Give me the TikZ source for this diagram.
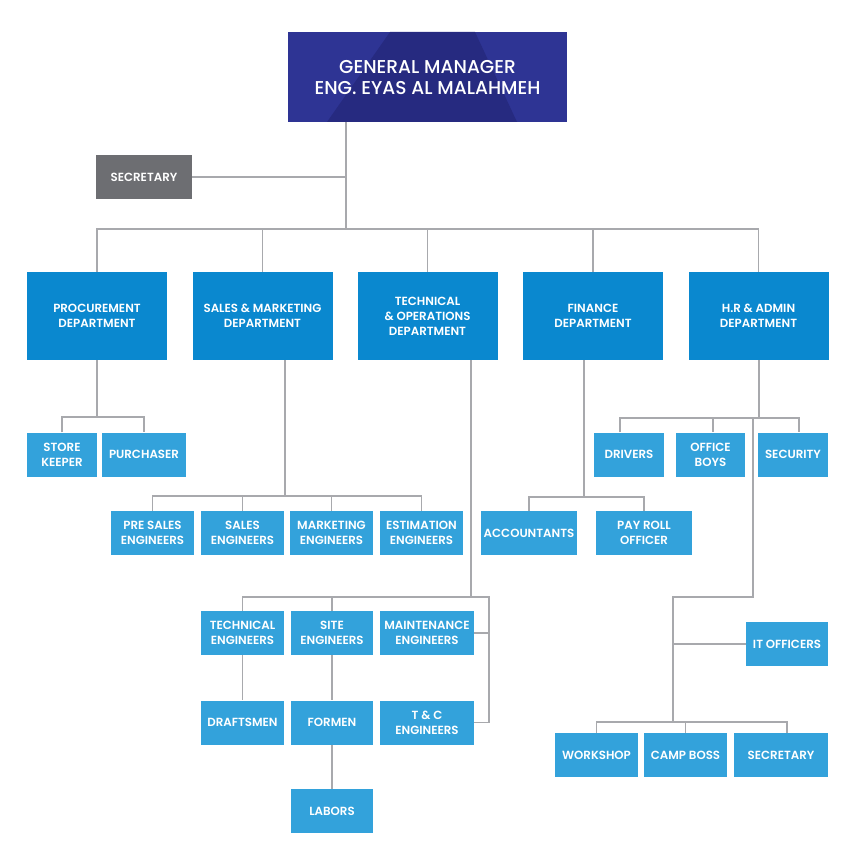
\documentclass[tikz,border=0pt]{standalone}
\usepackage{fontspec}
\setmainfont{Poppins}[UprightFont=* SemiBold]
\newfontfamily\gmfont{Poppins}[UprightFont=* Medium]
\definecolor{gmblue}{HTML}{2E3494}
\definecolor{gmdark}{HTML}{262A80}
\definecolor{dept}{HTML}{0A88CF}
\definecolor{subc}{HTML}{33A2DB}
\definecolor{greyb}{HTML}{6D6E72}
\definecolor{lnc}{HTML}{A8A9AD}
\begin{document}
\begin{tikzpicture}[x=1pt,y=-1pt,
  box/.style={inner sep=0pt,text=white,align=center,font=\fontsize{11.8}{15}\selectfont},
  deptbox/.style={box,fill=dept,minimum width=140pt,minimum height=88pt},
  subbox/.style={box,fill=subc,minimum height=44pt},
  conn/.style={draw=lnc,line width=1.6pt}]
\useasboundingbox (0,0) rectangle (858,861);
% General manager
\node[box,fill=gmblue,minimum width=279pt,minimum height=90pt] (gm) at (427.5,77) {};
\fill[gmdark] (390,32) -- (475,32) -- (517,122) -- (327,122) -- cycle;
\node[box,font=\gmfont\fontsize{18.6}{21.5}\selectfont] (gmt) at (427.5,77.5) {GENERAL MANAGER\\ENG. EYAS AL MALAHMEH};
% Secretary
\node[box,fill=greyb,minimum width=96pt,minimum height=44pt] (sec) at (144,177) {SECRETARY};
% Departments
\node[deptbox] (proc) at (97,316) {PROCUREMENT\\DEPARTMENT};
\node[deptbox] (sales) at (262.5,316) {SALES \& MARKETING\\DEPARTMENT};
\node[deptbox] (tech) at (427.5,316) {TECHNICAL\\\& OPERATIONS\\DEPARTMENT};
\node[deptbox] (fin) at (593,316) {FINANCE\\DEPARTMENT};
\node[deptbox] (hr) at (758.5,316) {H.R \& ADMIN\\DEPARTMENT};
% Procurement subs
\node[subbox,minimum width=70pt] (store) at (62,454.5) {STORE\\KEEPER};
\node[subbox,minimum width=84pt] (purch) at (144,454.5) {PURCHASER};
% Sales subs
\node[subbox,minimum width=83pt] (presales) at (152.5,533) {PRE SALES\\ENGINEERS};
\node[subbox,minimum width=83pt] (saleseng) at (242.5,533) {SALES\\ENGINEERS};
\node[subbox,minimum width=83pt] (mkt) at (331.5,533) {MARKETING\\ENGINEERS};
\node[subbox,minimum width=83pt] (est) at (421.5,533) {ESTIMATION\\ENGINEERS};
% Finance subs
\node[subbox,minimum width=96pt] (acc) at (529,533) {ACCOUNTANTS};
\node[subbox,minimum width=96pt] (pay) at (644,533) {PAY ROLL\\OFFICER};
% HR subs
\node[subbox,minimum width=70pt] (drv) at (629,454.5) {DRIVERS};
\node[subbox,minimum width=69pt] (boys) at (710.5,454.5) {OFFICE\\BOYS};
\node[subbox,minimum width=70pt] (secu) at (793,454.5) {SECURITY};
\node[subbox,minimum width=82pt] (it) at (787,644) {IT OFFICERS};
\node[subbox,minimum width=83pt] (work) at (596.5,755) {WORKSHOP};
\node[subbox,minimum width=83pt] (camp) at (685.5,755) {CAMP BOSS};
\node[subbox,minimum width=94pt] (sec2) at (781,755) {SECRETARY};
% Technical subs
\node[subbox,minimum width=83pt] (teng) at (242.5,633) {TECHNICAL\\ENGINEERS};
\node[subbox,minimum width=82pt] (site) at (332,633) {SITE\\ENGINEERS};
\node[subbox,minimum width=94pt] (maint) at (427,633) {MAINTENANCE\\ENGINEERS};
\node[subbox,minimum width=83pt] (draft) at (242.5,722.5) {DRAFTSMEN};
\node[subbox,minimum width=82pt] (formen) at (332,722.5) {FORMEN};
\node[subbox,minimum width=94pt] (tc) at (427,722.5) {T \& C\\ENGINEERS};
\node[subbox,minimum width=82pt] (lab) at (332,811) {LABORS};
% Coordinates
\coordinate (bus) at (346,229);
% Connectors
\draw[conn] (346,122) -- (bus);
\draw[conn] (sec.east) -- (346,177);
\draw[conn] (proc.north) -- (97,229) -- (758.5,229) -- (hr.north);
\draw[conn] (sales.north) -- (262.5,229);
\draw[conn] (tech.north) -- (427.5,229);
\draw[conn] (fin.north) -- (593,229);
% Procurement
\draw[conn] (proc.south) -- (97,417);
\draw[conn] (store.north) -- (62,417) -- (144,417) -- (purch.north);
% Sales
\draw[conn] (285,360) -- (285,496);
\draw[conn] (presales.north) -- (152.5,496) -- (421.5,496) -- (est.north);
\draw[conn] (saleseng.north) -- (242.5,496);
\draw[conn] (mkt.north) -- (331.5,496);
% Finance
\draw[conn] (584,360) -- (584,497);
\draw[conn] (acc.north) -- (529,497) -- (644,497) -- (pay.north);
% HR
\draw[conn] (759,360) -- (759,418);
\draw[conn] (620,418 |- drv.north) -- (620,418) -- (799,418) -- (799,418 |- secu.north);
\draw[conn] (713,418) -- (713,418 |- boys.north);
\draw[conn] (753,418) -- (753,597) -- (673,597) -- (673,722);
\draw[conn] (673,644) -- (it.west);
\draw[conn] (work.north) -- (596.5,722) -- (787,722) -- (787,722 |- sec2.north);
\draw[conn] (camp.north) -- (685.5,722);
% Technical
\draw[conn] (471,360) -- (471,597);
\draw[conn] (teng.north) -- (242.5,597) -- (489,597) -- (489,722.5) -- (tc.east);
\draw[conn] (site.north) -- (332,597);
\draw[conn] (489,633) -- (maint.east);
\draw[conn] (teng.south) -- (draft.north);
\draw[conn] (site.south) -- (formen.north);
\draw[conn] (formen.south) -- (lab.north);
\end{tikzpicture}
\end{document}
